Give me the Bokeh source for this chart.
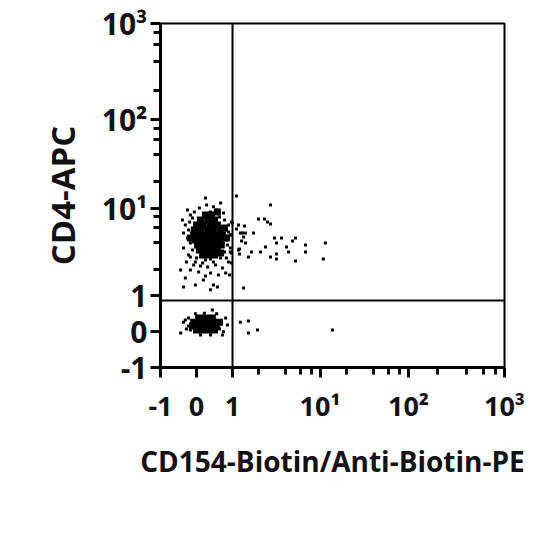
import numpy as np
from bokeh.plotting import figure
from bokeh.models import FixedTicker, Span
from bokeh.embed import file_html
from bokeh.resources import INLINE

# ---------------- data (fluorescence values) ----------------
x_label = "CD154-Biotin/Anti-Biotin-PE"
y_label = "CD4-APC"

major_tick_values = [-1, 0, 1, 10, 100, 1000]
major_tick_labels = ["-1", "0", "1", "10\u00b9", "10\u00b2", "10\u00b3"]
minor_tick_values = [2, 4, 6, 8, 20, 40, 60, 80, 200, 400, 600, 800]

gate_x = 1.0
gate_y = 0.86

# dense cores of the two populations
dense_x = [0.25, 0.42,
           0.11, 0.31, 0.50,
           0.0, 0.19, 0.39, 0.58,
           -0.06, 0.11, 0.31, 0.47, 0.67,
           -0.08, 0.08, 0.25, 0.42, 0.58, 0.72,
           -0.03, 0.14, 0.31, 0.47, 0.64,
           0.03, 0.19, 0.36, 0.53, 0.69,
           0.08, 0.25, 0.42, 0.58,
           0.17, 0.33, 0.50,
           0.78, 0.83, -0.17, 0.67, 0.58,
           0.06, 0.25, 0.44,
           -0.08, 0.08, 0.28, 0.47, 0.64,
           -0.11, 0.06, 0.22, 0.39, 0.56,
           0.0, 0.17, 0.33, 0.50]
dense_y = [8.31, 8.31,
           7.29, 7.29, 7.29,
           6.39, 6.39, 6.39, 6.39,
           5.60, 5.60, 5.60, 5.60, 5.60,
           4.91, 4.91, 4.91, 4.91, 4.91, 4.91,
           4.31, 4.31, 4.31, 4.31, 4.31,
           3.78, 3.78, 3.78, 3.78, 3.78,
           3.31, 3.31, 3.31, 3.31,
           2.90, 2.90, 2.90,
           5.90, 4.54, 4.54, 3.06, 9.0,
           0.375, 0.375, 0.375,
           0.26, 0.26, 0.26, 0.26, 0.26,
           0.15, 0.15, 0.15, 0.15, 0.15,
           0.04, 0.04, 0.04, 0.04]

# individual events
event_x = [0.25, 0.28, 0.67, 0.08, -0.25, 0.47, 0.75, -0.39, -0.31, 0.89, 1.0,
           -0.36, 0.94, -0.36, -0.17, 0.94, 0.97, -0.03, 0.17, 0.47, 0.72,
           -0.17, 0.06, -0.44, 0.39, 0.81, 0.19, -0.31, -0.36, 0.47, -0.03,
           0.39, 0.58,
           -0.17, -0.06, 0.39, 0.56, -0.19, -0.11, 0.64, 0.78, -0.22, 0.83,
           -0.25, -0.17, 0.83, 0.86, -0.11, 0.78, 0.0, 0.67, 0.25, 0.39,
           0.11, 0.31, 0.53, -0.08, -0.28, 0.61, 0.25, 0.89, -0.22, 0.83,
           1.11, 1.17, 1.30, 1.17, 1.34, 2.72, 0.97, 1.98, 2.32, 2.51, 2.72,
           1.37, 1.11, 0.89, 1.23, 1.41, 1.74, 0.97, 1.34, 0.89, 3.02, 3.63,
           5.25, 4.85, 1.27, 1.41, 3.18, 6.83, 11.5, 2.38, 4.14, 1.20, 1.65,
           2.09, 4.37, 6.83, 0.94, 1.20, 3.18, 1.52, 2.72, 3.18, 5.25, 10.9,
           0.97, 0.92,
           0.44, -0.36, -0.44, -0.31, 0.81, 0.86, 0.75, 1.23, 1.52, 1.52,
           1.93, 13.8,
           -0.22, -0.17, -0.22, -0.03, 0.22, 0.56, 0.69, 0.64, 0.11, 0.39,
           -0.28, 0.72]
event_y = [13.0, 10.8, 11.4, 10.0, 9.49, 10.3, 8.77, 7.29, 6.39, 6.39, 6.74,
           5.18, 4.91, 3.49, 2.75, 3.49, 3.06, 2.41, 2.35, 2.41, 2.06,
           1.96, 1.86, 1.96, 1.81, 1.81, 1.50, 1.58, 1.25, 1.32, 1.32,
           1.16, 1.25,
           8.31, 9.0, 9.0, 9.49, 6.92, 7.69, 7.89, 7.29, 5.60, 5.60,
           4.54, 3.98, 4.31, 3.78, 3.31, 3.14, 2.68, 2.68, 2.55, 2.61,
           2.17, 2.12, 2.23, 2.23, 2.41, 1.72, 1.67, 2.41, 2.90, 2.68,
           13.7, 6.39, 5.18, 3.31, 1.22, 10.8, 6.92, 7.48, 7.48, 6.92, 6.56,
           6.22, 5.75, 5.32, 5.18, 5.18, 5.18, 4.91, 4.66, 4.54, 4.54, 4.54,
           4.54, 4.20, 4.20, 3.98, 3.98, 3.78, 3.98, 3.58, 3.58, 3.40, 3.14,
           3.14, 3.14, 3.14, 3.14, 2.98, 2.98, 2.75, 2.75, 2.61, 2.48, 2.61,
           2.35, 1.72,
           0.6, 0.26, -0.04, 0.32, 0.375, 0.18, -0.01, 0.26, 0.29, -0.04,
           0.04, 0.04,
           0.15, 0.04, 0.375, 0.49, 0.51, 0.49, 0.29, 0.07, -0.10, -0.10,
           0.07, -0.10]

# ---------------- display scale: linear in [-1, 1], log decades above ----------------
LIN_UNIT = 36.0
DECADE_POS = [0.0, 87.5, 176.0, 272.0]


def scale(v):
    v = np.asarray(v, dtype=float)
    out = v * LIN_UNIT
    hi = v > 1
    out[hi] = LIN_UNIT + np.interp(np.log10(v[hi]), [0, 1, 2, 3], DECADE_POS)
    return out


lo = float(scale([-1])[0])
hi = float(scale([1000])[0])

FONT = "Open Sans"

p = figure(width=532, height=532, output_backend="svg", toolbar_location=None,
           x_range=(lo, hi), y_range=(lo, hi),
           min_border_left=160, min_border_right=28,
           min_border_top=23, min_border_bottom=165)
p.background_fill_color = "white"
p.border_fill_color = "white"
p.outline_line_color = "black"
p.outline_line_width = 2
p.xgrid.visible = False
p.ygrid.visible = False

major_pos = [float(t) for t in scale(major_tick_values)]
minor_pos = [float(t) for t in scale(minor_tick_values)]
overrides = {mp: lab for mp, lab in zip(major_pos, major_tick_labels)}

for ax in (p.xaxis[0], p.yaxis[0]):
    ax.ticker = FixedTicker(ticks=major_pos, minor_ticks=minor_pos)
    ax.major_label_overrides = overrides
    ax.axis_line_width = 3
    ax.axis_line_color = "black"
    ax.major_tick_line_width = 3
    ax.minor_tick_line_width = 3
    ax.major_tick_out = 10
    ax.major_tick_in = 0
    ax.minor_tick_out = 7
    ax.minor_tick_in = 0
    ax.major_label_text_font = FONT
    ax.major_label_text_font_style = "bold"
    ax.major_label_text_color = "#111111"
    ax.axis_label_text_font = FONT
    ax.axis_label_text_font_style = "bold"
    ax.axis_label_text_color = "#111111"

p.xaxis[0].major_label_text_font_size = "27px"
p.yaxis[0].major_label_text_font_size = "30px"
p.xaxis[0].axis_label_text_font_size = "28px"
p.yaxis[0].axis_label_text_font_size = "33px"

p.xaxis[0].axis_label = x_label
p.yaxis[0].axis_label = y_label
p.xaxis[0].major_label_standoff = 9
p.yaxis[0].major_label_standoff = 3
p.xaxis[0].axis_label_standoff = 15
p.yaxis[0].axis_label_standoff = 14

p.add_layout(Span(location=float(scale([gate_x])[0]), dimension="height",
                  line_color="black", line_width=2))
p.add_layout(Span(location=float(scale([gate_y])[0]), dimension="width",
                  line_color="black", line_width=2))

p.scatter(scale(dense_x), scale(dense_y), marker="square", size=7,
          fill_color="black", line_color=None)
p.scatter(scale(event_x), scale(event_y), marker="square", size=3,
          fill_color="black", line_color=None)

open("out.html", "w").write(file_html(p, INLINE))
